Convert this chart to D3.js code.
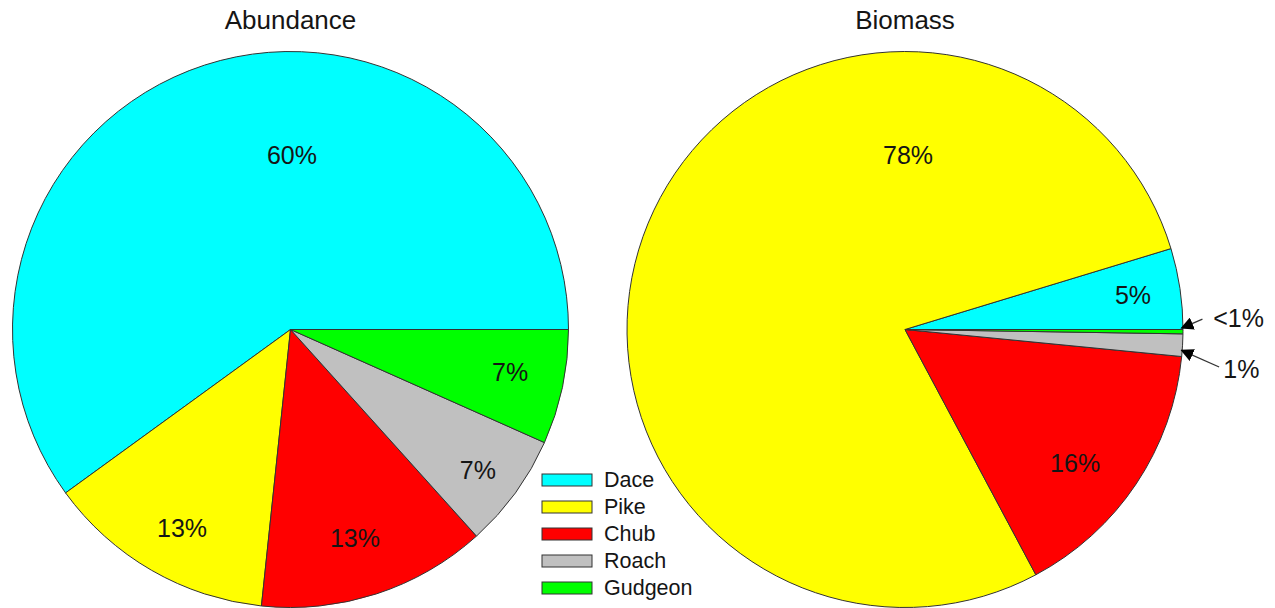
<!DOCTYPE html>
<html>
<head>
<meta charset="utf-8">
<script src="https://cdn.jsdelivr.net/npm/d3@7"></script>
<style>
  body { margin: 0; background: #fff; }
  svg text { font-family: "Liberation Sans", Arial, sans-serif; fill: #151515; }
</style>
</head>
<body>
<svg id="chart" width="1275" height="608"></svg>
<script>
// species, in drawing order (counter-clockwise from 3 o'clock)
const species = ["Dace", "Pike", "Chub", "Roach", "Gudgeon"];
const colors = ["#00ffff", "#ffff00", "#ff0000", "#c0c0c0", "#00ff00"];

// abundance = counts (9,2,2,1,1 of 15), biomass = %
const abundance = [9, 2, 2, 1, 1];
const biomass = [4.7, 78.1, 15.65, 1.3, 0.25];

const abundanceLabels = ["60%", "13%", "13%", "7%", "7%"];
const biomassLabels = ["5%", "78%", "16%", "1%", "<1%"];

// label placement, as fractions of the radius from the pie centre
const abundanceLabelPos = [[0.005, -0.628], [-0.39, 0.714], [0.232, 0.75], [0.674, 0.505], [0.79, 0.153]];
const biomassLabelPos = [[0.82, -0.124], [0.011, -0.628], [0.612, 0.48], null, null];

const svg = d3.select("#chart");
const r = 278;

const pie = d3.pie()
  .sort(null)
  .startAngle(Math.PI / 2)
  .endAngle(Math.PI / 2 - 2 * Math.PI);

const arc = d3.arc().innerRadius(0).outerRadius(r);

function drawPie(cx, cy, title, values, labels, labelPos) {
  const g = svg.append("g").attr("transform", "translate(" + cx + "," + cy + ")");

  g.selectAll("path")
    .data(pie(values))
    .enter().append("path")
    .attr("d", arc)
    .attr("fill", (d, i) => colors[i])
    .attr("stroke", "#333")
    .attr("stroke-width", 1);

  labelPos.forEach((p, i) => {
    if (!p) return;
    g.append("text")
      .attr("x", p[0] * r)
      .attr("y", p[1] * r)
      .attr("text-anchor", "middle")
      .attr("dominant-baseline", "central")
      .style("font-size", "25px")
      .text(labels[i]);
  });

  svg.append("text")
    .attr("x", cx)
    .attr("y", 20)
    .attr("text-anchor", "middle")
    .attr("dominant-baseline", "central")
    .style("font-size", "26px")
    .text(title);

  return g;
}

drawPie(290.5, 329.5, "Abundance", abundance, abundanceLabels, abundanceLabelPos);
const bio = drawPie(905, 329.5, "Biomass", biomass, biomassLabels, biomassLabelPos);

// arrow heads for the two thin slices
svg.append("defs").append("marker")
  .attr("id", "arrow")
  .attr("viewBox", "0 0 10 10")
  .attr("refX", 9).attr("refY", 5)
  .attr("markerWidth", 13).attr("markerHeight", 13)
  .attr("markerUnits", "userSpaceOnUse")
  .attr("orient", "auto")
  .append("path")
  .attr("d", "M0,0L10,5L0,10Z")
  .attr("fill", "#000");

// callouts: [slice index, line start (fraction of r), tip (fraction of r), text pos]
const callouts = [
  [4, [1.07, -0.037], [0.995, -0.005], [1.2, -0.04]],
  [3, [1.13, 0.135], [0.995, 0.075], [1.21, 0.143]]
];
callouts.forEach(c => {
  bio.append("line")
    .attr("x1", c[1][0] * r).attr("y1", c[1][1] * r)
    .attr("x2", c[2][0] * r).attr("y2", c[2][1] * r)
    .attr("stroke", "#333")
    .attr("stroke-width", 1.3)
    .attr("marker-end", "url(#arrow)");
  bio.append("text")
    .attr("x", c[3][0] * r)
    .attr("y", c[3][1] * r)
    .attr("text-anchor", "middle")
    .attr("dominant-baseline", "central")
    .style("font-size", "25px")
    .text(biomassLabels[c[0]]);
});

// legend
const legend = svg.append("g").attr("transform", "translate(542,474)");
species.forEach((s, i) => {
  legend.append("rect")
    .attr("x", 0).attr("y", i * 27)
    .attr("width", 50).attr("height", 12)
    .attr("fill", colors[i])
    .attr("stroke", "#333");
  legend.append("text")
    .attr("x", 62).attr("y", i * 27 + 6)
    .attr("dominant-baseline", "central")
    .style("font-size", "21.5px")
    .text(s);
});
</script>
</body>
</html>
